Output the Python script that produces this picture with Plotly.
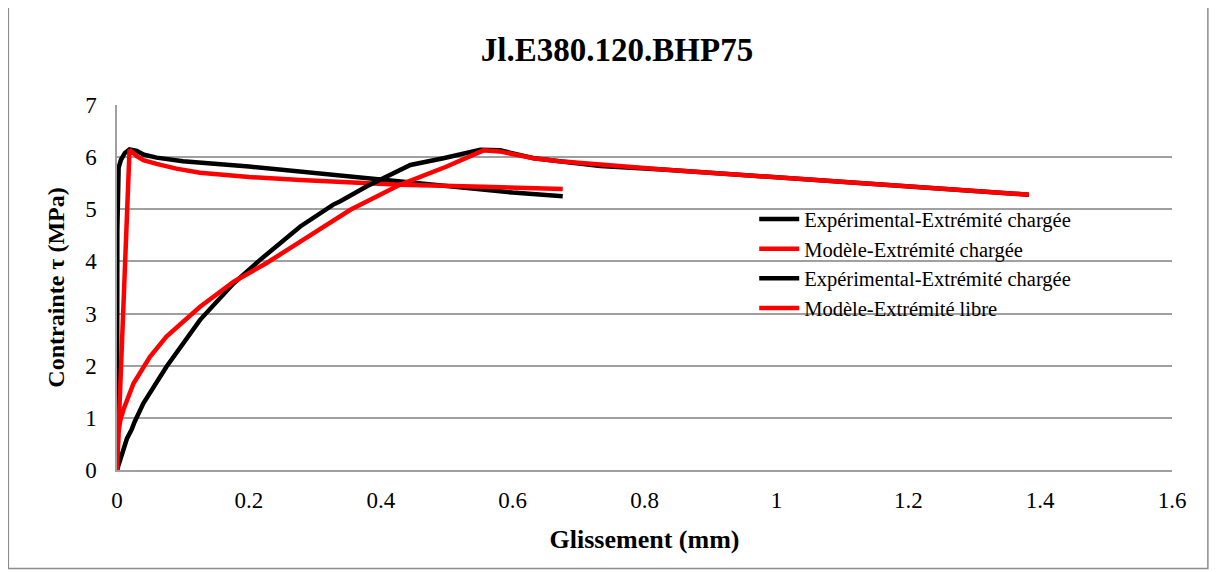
import plotly.graph_objects as go

# ---- data ----
exp_loaded_x = [0, 0.0005, 0.0025, 0.006, 0.012, 0.019, 0.03, 0.04, 0.06, 0.1, 0.2, 0.3, 0.4, 0.5, 0.556, 0.6, 0.676]
exp_loaded_y = [0, 4.6, 5.8, 5.95, 6.08, 6.15, 6.12, 6.05, 5.99, 5.92, 5.82, 5.69, 5.56, 5.43, 5.37, 5.32, 5.25]

mod_loaded_x = [0, 0.019, 0.03, 0.04, 0.06, 0.09, 0.126, 0.2, 0.278, 0.354, 0.43, 0.556, 0.676]
mod_loaded_y = [0, 6.14, 6.02, 5.94, 5.87, 5.78, 5.70, 5.62, 5.56, 5.51, 5.47, 5.43, 5.39]

exp_free_x = [0, 0.005, 0.0096, 0.015, 0.022, 0.027, 0.04, 0.075, 0.126, 0.177, 0.217, 0.278,
              0.328, 0.338, 0.379, 0.445, 0.495, 0.551, 0.581, 0.632, 0.671, 0.733, 0.833, 1.035, 1.383]
exp_free_y = [0, 0.2, 0.38, 0.6, 0.77, 0.93, 1.28, 1.98, 2.88, 3.58, 4.03, 4.67,
              5.09, 5.15, 5.44, 5.85, 5.98, 6.14, 6.13, 5.98, 5.92, 5.83, 5.76, 5.58, 5.28]

mod_free_x = [0, 0.001, 0.002, 0.005, 0.0096, 0.025, 0.05, 0.075, 0.126, 0.177, 0.227, 0.278,
              0.354, 0.429, 0.5, 0.556, 0.58, 0.632, 0.671, 0.833, 1.035, 1.383]
mod_free_y = [0, 0.4, 0.7, 0.95, 1.15, 1.66, 2.17, 2.56, 3.13, 3.61, 3.97, 4.38,
              4.99, 5.47, 5.82, 6.13, 6.11, 5.98, 5.92, 5.76, 5.58, 5.28]

names = ["Expérimental-Extrémité chargée", "Modèle-Extrémité chargée",
         "Expérimental-Extrémité chargée", "Modèle-Extrémité libre"]
colors = ["#000000", "#ff0000", "#000000", "#ff0000"]

title_text = "Jl.E380.120.BHP75"
x_title = "Glissement (mm)"
y_title = "Contrainte τ (MPa)"
x_ticks = [0, 0.2, 0.4, 0.6, 0.8, 1, 1.2, 1.4, 1.6]
y_ticks = [0, 1, 2, 3, 4, 5, 6, 7]

FONT = "Liberation Serif, Times New Roman, serif"

fig = go.Figure()
series = [(exp_loaded_x, exp_loaded_y), (mod_loaded_x, mod_loaded_y),
          (exp_free_x, exp_free_y), (mod_free_x, mod_free_y)]
for (xs, ys), nm, c in zip(series, names, colors):
    fig.add_trace(go.Scatter(x=xs, y=ys, mode="lines", name=nm,
                             line=dict(color=c, width=4.5)))

fig.update_layout(
    width=1218, height=572,
    margin=dict(l=109, r=54, t=97, b=110),
    paper_bgcolor="white", plot_bgcolor="white",
    font=dict(family=FONT, color="black", size=22),
    title=dict(text="<b>" + title_text + "</b>", x=0.5, xanchor="center",
               y=0.928, yanchor="middle", font=dict(family=FONT, size=33)),
    showlegend=True,
    legend=dict(x=0.604, y=0.742, xanchor="left", yanchor="top",
                bgcolor="rgba(0,0,0,0)", font=dict(family=FONT, size=20.5),
                tracegroupgap=0, itemwidth=40),
    shapes=[dict(type="rect", xref="paper", yref="paper",
                 x0=-0.103, x1=1.034, y0=-0.27, y1=1.275,
                 line=dict(color="#8c8c8c", width=1.5), layer="below")],
)

fig.update_xaxes(range=[0, 1.6], tickvals=x_ticks, ticktext=[f"{v:g}" for v in x_ticks],
                 showgrid=False, zeroline=False, showline=True, linecolor="#a0a0a0", linewidth=1.5,
                 ticks="", ticklabelstandoff=9, tickfont=dict(family=FONT, size=23),
                 title=dict(text="<b>" + x_title + "</b>", font=dict(family=FONT, size=26), standoff=17))
fig.update_yaxes(range=[0, 7], tickvals=y_ticks, showgrid=True, gridcolor="#a0a0a0", gridwidth=1.5,
                 zeroline=False, showline=True, linecolor="#a0a0a0", linewidth=1.5,
                 ticks="", ticklabelstandoff=14, tickfont=dict(family=FONT, size=23),
                 title=dict(text="<b>" + y_title + "</b>", font=dict(family=FONT, size=24), standoff=14))

fig.write_html("out.html")
